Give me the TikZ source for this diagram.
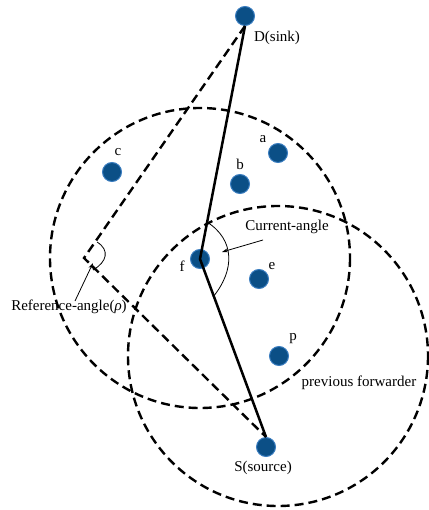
\documentclass[tikz,border=0pt]{standalone}
\usepackage{fontspec}
\setmainfont{Liberation Serif}
\usetikzlibrary{arrows.meta}
\definecolor{nodefill}{HTML}{0B4F86}
\definecolor{nodeedge}{HTML}{3A7DC0}
\begin{document}
\begin{tikzpicture}[x=1pt,y=-1pt,
  dot/.style={circle,fill=nodefill,draw=nodeedge,line width=1pt,minimum size=19pt,inner sep=0pt},
  lbl/.style={font=\fontsize{15}{17}\selectfont,inner sep=0pt},
  dsh/.style={line width=2.4pt,dash pattern=on 9pt off 5pt},
  path/.style={line width=2.5pt},
  thin/.style={line width=0.8pt}]
\useasboundingbox (0,0) rectangle (428,510);
% range circles
\draw[dsh] (200,258) circle (150);
\draw[dsh] (278,356) circle (150);
% nodes
\node[dot] (D) at (245,16) {};
\node[dot] (a) at (278,153) {};
\node[dot] (b) at (240,184) {};
\node[dot] (c) at (112,172) {};
\node[dot] (f) at (200,259) {};
\node[dot] (e) at (259,279) {};
\node[dot] (p) at (279,356) {};
\node[dot] (S) at (266,447) {};
\coordinate (R) at (84,258);
% dashed reference lines
\draw[dsh] (D.south) -- (R) -- (S.north);
% solid path
\draw[path] (D.south) -- (f.center) -- (S.north);
% angle arcs
\coordinate (ca1) at (207,222);
\coordinate (ca2) at (213,297);
\draw[thin] (ca1) .. controls (235,240) and (235,270) .. (ca2);
\coordinate (ra1) at (97,242);
\coordinate (ra2) at (93,270);
\draw[thin] (ra1) .. controls (110,250) and (107,262) .. (ra2);
% labels
\node[lbl] (lD) at (277,38) {D(sink)};
\node[lbl] at (263,139) {a};
\node[lbl] at (240,164) {b};
\node[lbl] at (118,152) {c};
\node[lbl] at (182,266) {f};
\node[lbl] at (272,266) {e};
\node[lbl] at (293,339) {p};
\node[lbl] at (359,383) {previous forwarder};
\node[lbl] at (263,468) {S(source)};
\node[lbl] (lC) at (287,227) {Current-angle};
\node[lbl] (lR) at (69,307) {Reference-angle(\textit{ρ})};
% pointer arrows
\coordinate (cs) at (263,240);
\coordinate (ce) at (222,252);
\draw[thin,-{Stealth[length=6pt,width=4pt]}] (cs) -- (ce);
\coordinate (rs) at (75,301);
\coordinate (re) at (93,263);
\draw[thin,-{Stealth[length=6pt,width=4pt]}] (rs) -- (re);
\end{tikzpicture}
\end{document}
